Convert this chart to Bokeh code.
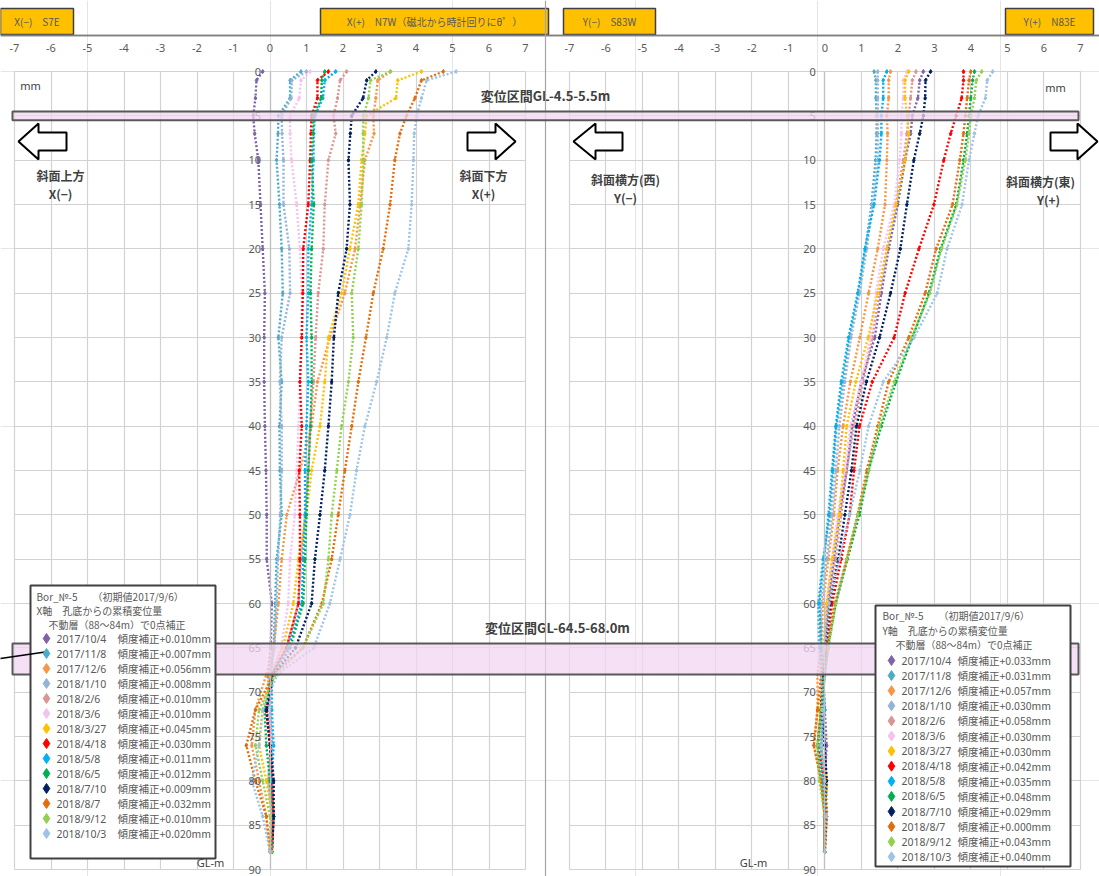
from bokeh.plotting import figure
from bokeh.models import Range1d, LinearAxis, FixedTicker, Grid, BoxAnnotation, Span
from bokeh.core.properties import value
from bokeh.embed import file_html
from bokeh.resources import INLINE

# ---------------- data ----------------
depths = [0, 1, 3, 5, 7, 10, 15, 20, 25, 30, 35, 40, 45, 50, 55, 60, 65, 68, 72, 76, 80, 84, 88]

dates = ["2017/10/4", "2017/11/8", "2017/12/6", "2018/1/10", "2018/2/6", "2018/3/6", "2018/3/27",
         "2018/4/18", "2018/5/8", "2018/6/5", "2018/7/10", "2018/8/7", "2018/9/12", "2018/10/3"]
colors = ["#7f62a8", "#4bacc6", "#f79646", "#95b3d7", "#d99694", "#f5c2f0", "#ffc000",
          "#ff0000", "#00b0f0", "#00b050", "#002060", "#e46c0a", "#92d050", "#9dc3e6"]
x_corr = ["+0.010", "+0.007", "+0.056", "+0.008", "+0.010", "+0.010", "+0.045",
          "+0.030", "+0.011", "+0.012", "+0.009", "+0.032", "+0.010", "+0.020"]
y_corr = ["+0.033", "+0.031", "+0.057", "+0.030", "+0.058", "+0.030", "+0.030",
          "+0.042", "+0.035", "+0.048", "+0.029", "+0.000", "+0.043", "+0.040"]

# X axis (left panel) cumulative displacement, mm
x01 = [-0.2, -0.37, -0.4, -0.46, -0.42, -0.32, -0.26, -0.2, -0.14, -0.16, -0.16, -0.14, -0.11, -0.09, -0.09, 0.05, 0.02, -0.05, 0.0, 0.05, 0.02, 0.05, 0.0]
x02 = [0.85, 0.55, 0.55, 0.23, 0.22, 0.18, 0.26, 0.32, 0.35, 0.23, 0.32, 0.26, 0.27, 0.32, 0.18, 0.14, 0.1, 0.02, -0.05, 0.05, 0.1, 0.05, 0.0]
x03 = [3.3, 2.95, 2.9, 2.83, 2.85, 2.6, 2.47, 2.33, 2.05, 1.64, 1.3, 1.14, 0.82, 0.46, 0.32, 0.23, 0.1, -0.1, -0.4, -0.5, -0.3, -0.1, 0.0]
x04 = [1.0, 0.6, 0.58, 0.32, 0.33, 0.37, 0.37, 0.53, 0.55, 0.32, 0.27, 0.32, 0.32, 0.28, 0.22, 0.18, 0.12, 0.0, -0.1, 0.02, -0.05, 0.05, 0.02]
x05 = [2.1, 1.92, 1.85, 1.74, 1.8, 1.6, 1.5, 1.46, 1.32, 1.25, 1.19, 1.1, 1.05, 0.96, 0.85, 0.78, 0.45, 0.05, 0.0, 0.05, -0.05, 0.05, 0.0]
x06 = [1.1, 0.85, 0.8, 0.55, 0.55, 0.59, 0.73, 0.82, 0.87, 0.87, 0.82, 0.78, 0.73, 0.68, 0.55, 0.5, 0.3, 0.05, 0.0, 0.05, 0.1, 0.02, 0.0]
x07 = [4.15, 3.5, 3.45, 2.65, 2.6, 2.51, 2.42, 2.19, 1.96, 1.6, 1.5, 1.37, 1.14, 1.0, 0.78, 0.64, 0.35, 0.0, -0.2, -0.3, -0.1, 0.05, 0.0]
x08 = [1.6, 1.3, 1.3, 1.14, 1.12, 1.1, 1.05, 0.91, 0.9, 0.87, 0.82, 0.87, 0.8, 0.82, 0.82, 0.78, 0.45, 0.05, -0.1, 0.0, 0.05, 0.1, 0.05]
x09 = [1.8, 1.5, 1.45, 1.23, 1.2, 1.19, 1.14, 1.05, 1.05, 1.0, 1.05, 1.0, 0.96, 0.96, 0.91, 0.87, 0.5, 0.05, 0.05, 0.1, 0.05, 0.1, 0.05]
x10 = [1.5, 1.42, 1.4, 1.19, 1.18, 1.14, 1.2, 1.14, 1.11, 1.14, 1.14, 1.11, 1.05, 1.0, 0.96, 0.91, 0.55, 0.1, -0.15, -0.1, 0.0, 0.1, 0.05]
x11 = [2.9, 2.65, 2.55, 2.24, 2.2, 2.15, 2.19, 2.1, 1.87, 1.75, 1.69, 1.6, 1.5, 1.37, 1.23, 1.14, 0.7, 0.1, -0.1, 0.0, 0.1, 0.1, 0.05]
x12 = [4.75, 4.15, 3.97, 3.74, 3.56, 3.42, 3.29, 3.1, 2.83, 2.63, 2.42, 2.24, 2.05, 1.87, 1.69, 1.42, 0.9, 0.1, -0.4, -0.65, -0.4, -0.1, 0.0]
x13 = [3.3, 2.75, 2.7, 2.56, 2.55, 2.56, 2.51, 2.42, 2.24, 2.28, 2.15, 1.96, 1.83, 1.69, 1.6, 1.46, 0.9, 0.15, -0.3, -0.4, -0.2, 0.0, 0.05]
x14 = [5.1, 4.29, 4.15, 4.02, 3.95, 3.93, 3.88, 3.79, 3.42, 3.2, 2.92, 2.6, 2.37, 2.19, 1.92, 1.64, 1.2, 0.2, -0.2, -0.3, -0.5, -0.2, 0.0]

# Y axis (right panel) cumulative displacement, mm
y01 = [2.7, 2.6, 2.55, 2.4, 2.35, 2.2, 2.0, 1.75, 1.55, 1.37, 1.0, 0.75, 0.6, 0.4, 0.25, 0.08, 0.0, -0.05, 0.0, 0.05, 0.0, 0.0, 0.0]
y02 = [1.35, 1.4, 1.4, 1.42, 1.42, 1.39, 1.28, 1.11, 0.93, 0.68, 0.5, 0.32, 0.23, 0.14, -0.05, -0.18, -0.15, -0.1, -0.05, -0.15, -0.05, 0.0, 0.0]
y03 = [1.8, 1.75, 1.75, 1.7, 1.72, 1.7, 1.65, 1.45, 1.2, 0.96, 0.7, 0.5, 0.35, 0.25, 0.1, -0.05, -0.1, -0.2, -0.2, -0.3, -0.1, 0.0, 0.0]
y04 = [1.45, 1.45, 1.45, 1.45, 1.45, 1.45, 1.3, 1.15, 0.95, 0.72, 0.55, 0.4, 0.3, 0.2, 0.05, -0.1, -0.1, -0.05, 0.0, -0.1, 0.0, 0.05, 0.0]
y05 = [2.5, 2.4, 2.35, 2.3, 2.25, 2.15, 1.95, 1.7, 1.5, 1.3, 1.05, 0.8, 0.6, 0.45, 0.3, 0.1, 0.0, -0.1, -0.05, 0.0, 0.05, 0.0, 0.0]
y06 = [2.25, 2.15, 2.15, 2.1, 2.1, 2.05, 1.9, 1.6, 1.4, 1.25, 1.0, 0.7, 0.55, 0.35, 0.2, 0.05, 0.0, -0.05, -0.1, 0.0, 0.05, 0.0, 0.0]
y07 = [2.3, 2.2, 2.2, 2.25, 2.3, 2.2, 1.95, 1.7, 1.45, 1.19, 0.85, 0.6, 0.5, 0.4, 0.2, 0.05, -0.05, -0.1, -0.15, -0.1, 0.05, 0.05, 0.0]
y08 = [3.8, 3.8, 3.75, 3.6, 3.45, 3.26, 2.99, 2.58, 2.2, 1.9, 1.3, 0.95, 0.8, 0.68, 0.45, 0.2, 0.05, -0.05, -0.1, -0.2, 0.0, 0.05, 0.0]
y09 = [1.7, 1.6, 1.6, 1.55, 1.55, 1.5, 1.35, 1.1, 0.9, 0.65, 0.45, 0.3, 0.2, 0.1, -0.02, -0.15, -0.1, -0.05, 0.0, -0.1, -0.05, 0.0, 0.0]
y10 = [4.1, 4.05, 4.0, 3.95, 3.9, 3.8, 3.6, 3.17, 2.85, 2.4, 1.95, 1.55, 1.2, 0.95, 0.62, 0.3, 0.08, 0.0, -0.1, -0.2, -0.1, 0.0, 0.0]
y11 = [2.9, 2.76, 2.75, 2.7, 2.6, 2.44, 2.25, 2.07, 1.8, 1.5, 1.14, 0.87, 0.73, 0.55, 0.37, 0.14, 0.02, -0.05, -0.1, 0.0, 0.05, 0.0, 0.0]
y12 = [4.0, 3.95, 3.9, 3.85, 3.8, 3.7, 3.5, 3.05, 2.75, 2.3, 1.75, 1.45, 1.15, 0.9, 0.6, 0.28, 0.05, -0.1, -0.2, -0.3, -0.1, 0.0, 0.0]
y13 = [4.3, 4.15, 4.1, 4.0, 3.95, 3.85, 3.62, 3.2, 2.88, 2.38, 1.9, 1.5, 1.2, 0.9, 0.6, 0.3, 0.1, 0.0, -0.1, -0.2, -0.15, 0.0, 0.0]
y14 = [4.6, 4.45, 4.4, 4.2, 4.1, 3.95, 3.76, 3.35, 3.08, 2.45, 1.6, 1.2, 0.96, 0.68, 0.4, 0.12, 0.0, -0.1, -0.05, -0.1, 0.0, 0.05, 0.0]

series_x = [x01, x02, x03, x04, x05, x06, x07, x08, x09, x10, x11, x12, x13, x14]
series_y = [y01, y02, y03, y04, y05, y06, y07, y08, y09, y10, y11, y12, y13, y14]

x_ticks = [-7, -6, -5, -4, -3, -2, -1, 0, 1, 2, 3, 4, 5, 6, 7]
x_tick_labels = ["-7", "-6", "-5", "-4", "-3", "-2", "-1", "0", "1", "2", "3", "4", "5", "6", "7"]
y_ticks = [0, 5, 10, 15, 20, 25, 30, 35, 40, 45, 50, 55, 60, 65, 70, 75, 80, 85, 90]

# ---------------- layout helpers ----------------
W, H = 1099, 876
SX, SY = 36.5, 8.867        # px per mm, px per m
X0L, Y0 = 269.5, 71.0       # pixel of x=0 (left panel) and depth 0
OFF = 15.2                  # right panel offset in mm units


def px2x(px):
    return (px - X0L) / SX


def px2y(py):
    return (py - Y0) / SY


JP = "Noto Sans CJK JP"
LAB = "Noto Sans"
GRID = "#d2d2d2"
DARK = "#404040"

p = figure(width=W, height=H, output_backend="svg", toolbar_location=None,
           x_range=Range1d(start=px2x(0), end=px2x(W)),
           y_range=Range1d(start=px2y(H), end=px2y(0)),
           x_axis_location=None, y_axis_location=None, min_border=0,
           outline_line_color=None, background_fill_color="white",
           border_fill_color="white")
p.extra_x_ranges = {"right": Range1d(start=px2x(0) - OFF, end=px2x(W) - OFF)}


def add_grid(dim, ticks, cross, rn):
    g = Grid(dimension=dim, ticker=FixedTicker(ticks=ticks), x_range_name=rn,
             grid_line_color=GRID, grid_line_width=1.2)
    try:
        g.cross_bounds = cross
        p.add_layout(g)
    except Exception:
        n = len(ticks)
        if dim == 0:
            p.segment(x0=ticks, x1=ticks, y0=[cross[0]] * n, y1=[cross[1]] * n,
                      x_range_name=rn, line_color=GRID, line_width=1.2)
        else:
            p.segment(x0=[cross[0]] * n, x1=[cross[1]] * n, y0=ticks, y1=ticks,
                      x_range_name=rn, line_color=GRID, line_width=1.2)


for rn in ("default", "right"):
    add_grid(0, x_ticks, (0, 90), rn)
    add_grid(1, y_ticks, (-7, 7), rn)

# axes
for rn in ("default", "right"):
    ax = LinearAxis(x_range_name=rn, fixed_location=px2y(35),
                    ticker=FixedTicker(ticks=x_ticks),
                    major_label_overrides=dict(zip(x_ticks, x_tick_labels)),
                    axis_line_color="#7f7f7f", axis_line_width=1.3,
                    major_tick_in=0, major_tick_out=0, minor_tick_in=0, minor_tick_out=0,
                    major_label_standoff=8, major_label_text_font=LAB,
                    major_label_text_font_size="11px", major_label_text_color="#595959")
    p.add_layout(ax, "below")
    ay = LinearAxis(x_range_name=rn, fixed_location=0, bounds=(0, 90),
                    ticker=FixedTicker(ticks=y_ticks),
                    axis_line_color="#bfbfbf", axis_line_width=1.2,
                    major_tick_in=0, major_tick_out=0, minor_tick_in=0, minor_tick_out=0,
                    major_label_standoff=9, major_label_text_font=LAB,
                    major_label_text_font_size="11px", major_label_text_color="#595959")
    p.add_layout(ay, "left")

# panel separator
p.add_layout(Span(location=px2x(545), dimension="height", line_color="#a6a6a6", line_width=1.2))

# ---------------- data series ----------------
for vals, c in zip(series_x, colors):
    p.line(vals, depths, line_color=c, line_width=2.4, line_dash="2 2")
    p.scatter(vals, depths, marker="diamond", size=4, fill_color=c, line_color=c)
for vals, c in zip(series_y, colors):
    p.line(vals, depths, line_color=c, line_width=2.4, line_dash="2 2", x_range_name="right")
    p.scatter(vals, depths, marker="diamond", size=4, fill_color=c, line_color=c,
              x_range_name="right")

# ---------------- displacement bands ----------------
for top, bot in ((4.5, 5.5), (64.5, 68.0)):
    p.add_layout(BoxAnnotation(left=px2x(12), right=px2x(1078), top=top, bottom=bot,
                               fill_color="#f1d6f1", fill_alpha=0.75,
                               line_color="#595959", line_alpha=1.0, line_width=2))
p.text(x=[px2x(545), px2x(557)], y=[px2y(95), px2y(627)],
       text=["変位区間GL-4.5-5.5m", "変位区間GL-64.5-68.0m"],
       text_font=value(JP), text_font_style="bold", text_font_size="13px",
       text_color=DARK, text_align="center", text_baseline="middle")

# ---------------- header boxes ----------------
hdr_l = [0, 320, 563, 1005]
hdr_r = [73, 548, 655, 1093]
hdr_t = ["X(−)　S7E", "X(+)　N7W（磁北から時計回りにθ゜）", "Y(−)　S83W", "Y(+)　N83E"]
p.quad(left=[px2x(v) for v in hdr_l], right=[px2x(v) for v in hdr_r],
       top=[px2y(8)] * 4, bottom=[px2y(34)] * 4,
       fill_color="#ffc000", line_color=DARK, line_width=1.5)
p.text(x=[px2x((a + b) / 2) for a, b in zip(hdr_l, hdr_r)], y=[px2y(21)] * 4, text=hdr_t,
       text_font=value(JP), text_font_size="10px", text_color="#595959",
       text_align="center", text_baseline="middle")

# ---------------- arrows ----------------
arrows_px = [
    [(18, 141), (38, 123), (38, 132), (66, 132), (66, 150), (38, 150), (38, 159)],
    [(515, 141), (495, 123), (495, 132), (467, 132), (467, 150), (495, 150), (495, 159)],
    [(573, 141), (595, 123), (595, 132), (622, 132), (622, 150), (595, 150), (595, 159)],
    [(1097, 141), (1077, 123), (1077, 132), (1050, 132), (1050, 150), (1077, 150), (1077, 159)],
]
p.patches(xs=[[px2x(a) for a, b in arr] for arr in arrows_px],
          ys=[[px2y(b) for a, b in arr] for arr in arrows_px],
          fill_color="white", line_color="black", line_width=2)
arr_tx = [60, 60, 483, 483, 625, 625, 1040, 1048]
arr_ty = [175, 193, 175, 193, 179, 197, 181, 199]
arr_t = ["斜面上方", "X(−)", "斜面下方", "X(+)", "斜面横方(西)", "Y(−)", "斜面横方(東)", "Y(+)"]
p.text(x=[px2x(v) for v in arr_tx], y=[px2y(v) for v in arr_ty], text=arr_t,
       text_font=value(JP), text_font_style="bold", text_font_size="12px",
       text_color=DARK, text_align="center", text_baseline="middle")

# axis unit labels
p.text(x=[px2x(30), px2x(1055), px2x(210), px2x(753)],
       y=[px2y(85), px2y(87), px2y(862), px2y(862)],
       text=["mm", "mm", "GL-m", "GL-m"],
       text_font=value(LAB), text_font_size="11px", text_color="#404040",
       text_align="center", text_baseline="middle")

# ---------------- legends ----------------
legend_boxes = [(30, 215, 585, 858), (875, 1070, 605, 866)]
for l, r, t, b in legend_boxes:
    p.add_layout(BoxAnnotation(left=px2x(l), right=px2x(r), top=px2y(t), bottom=px2y(b),
                               fill_color="white", fill_alpha=1.0,
                               line_color=DARK, line_alpha=1.0, line_width=2))

overlay = []
overlay.append(p.segment(x0=[px2x(0)], y0=[px2y(658)], x1=[px2x(48)], y1=[px2y(651)],
                         line_color="black", line_width=1.5))

titles = [
    ("Bor_№-5　　（初期値2017/9/6）", "X軸　孔底からの累積変位量", "不動層（88～84m）で0点補正"),
    ("Bor_№-5　　（初期値2017/9/6）", "Y軸　孔底からの累積変位量", "不動層（88～84m）で0点補正"),
]
title_x = [(36, 36, 48), (882, 882, 895)]
title_y = [(596, 610, 624), (615, 630, 644)]
entry_y0 = [638, 660]
entry_dy = [15.0, 15.1]
diam_x = [46, 891]
date_x = [56, 901]
corr_x = [117, 957]
corrs = [x_corr, y_corr]

for k in range(2):
    overlay.append(p.text(x=[px2x(v) for v in title_x[k]], y=[px2y(v) for v in title_y[k]],
                          text=list(titles[k]), text_font=value(JP), text_font_size="10px",
                          text_color="#595959", text_align="left", text_baseline="middle"))
    ys = [px2y(entry_y0[k] + entry_dy[k] * i) for i in range(len(dates))]
    overlay.append(p.scatter([px2x(diam_x[k])] * len(dates), ys, marker="diamond", size=10,
                             fill_color=colors, line_color=colors))
    overlay.append(p.text(x=[px2x(date_x[k])] * len(dates), y=ys, text=dates,
                          text_font=value(LAB), text_font_size="10.5px", text_color="#595959",
                          text_align="left", text_baseline="middle"))
    overlay.append(p.text(x=[px2x(corr_x[k])] * len(dates), y=ys,
                          text=["傾度補正" + c + "mm" for c in corrs[k]],
                          text_font=value(JP), text_font_size="10.5px", text_color="#595959",
                          text_align="left", text_baseline="middle"))
for r in overlay:
    r.level = "overlay"

open("out.html", "w").write(file_html(p, INLINE))
